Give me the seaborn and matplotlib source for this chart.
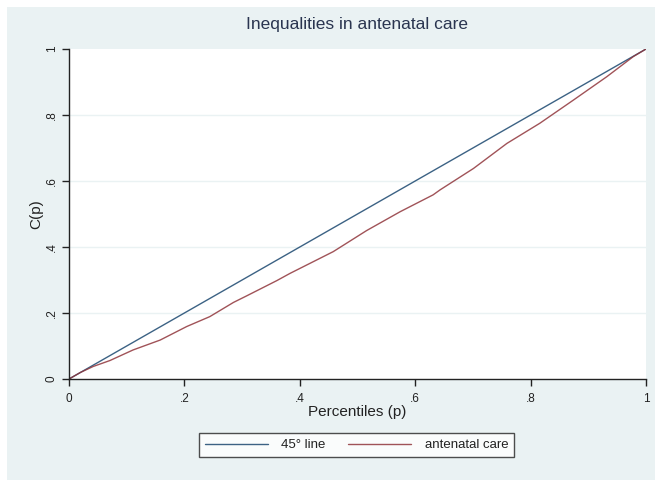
import matplotlib
matplotlib.use("Agg")
import matplotlib.pyplot as plt
import seaborn as sns
import pandas as pd
from matplotlib.patches import Rectangle

# Equality reference line
line45_p = [0.0, 1.0]
line45_c = [0.0, 1.0]

# Concentration curve for antenatal care
care_p = [0.0, 0.02, 0.042, 0.071, 0.111, 0.158, 0.204, 0.244, 0.285, 0.308,
          0.36, 0.383, 0.458, 0.516, 0.574, 0.631, 0.643, 0.701, 0.759, 0.816,
          0.874, 0.932, 0.978, 1.0]
care_c = [0.0, 0.02, 0.038, 0.056, 0.088, 0.118, 0.159, 0.189, 0.232, 0.252,
          0.298, 0.320, 0.386, 0.450, 0.507, 0.558, 0.573, 0.638, 0.714, 0.775,
          0.845, 0.916, 0.977, 1.0]

ticks = [0, 0.2, 0.4, 0.6, 0.8, 1.0]
tick_labels = ["0", ".2", ".4", ".6", ".8", "1"]

sns.set_theme(style="white")
plt.rcParams["font.family"] = ["Liberation Sans", "DejaVu Sans"]

W, H = 657, 480
fig = plt.figure(figsize=(W / 100, H / 100), dpi=100, facecolor="white")

bg = "#eaf2f3"
fig.add_artist(Rectangle((7 / W, 0), (655 - 7) / W, 1 - 7 / H,
                         transform=fig.transFigure, facecolor=bg,
                         edgecolor="none", zorder=-10))

ax = fig.add_axes([69 / W, 1 - 379 / H, (646 - 69) / W, (379 - 49) / H])
ax.set_zorder(1)
ax.set_facecolor("white")

df45 = pd.DataFrame({"p": line45_p, "c": line45_c})
dfc = pd.DataFrame({"p": care_p, "c": care_c})

navy = "#1a476f"
maroon = "#90353b"
sns.lineplot(data=df45, x="p", y="c", ax=ax, color=navy, lw=1.0,
             label="45° line", sort=False, alpha=0.85)
sns.lineplot(data=dfc, x="p", y="c", ax=ax, color=maroon, lw=1.0,
             label="antenatal care", sort=False, alpha=0.85)

ax.set_xlim(0, 1)
ax.set_ylim(0, 1)
ax.set_xticks(ticks)
ax.set_xticklabels(tick_labels)
ax.set_yticks(ticks)
ax.set_yticklabels(tick_labels, rotation=90, va="center")

for y in ticks[1:-1]:
    ax.axhline(y, color=bg, lw=1.0, zorder=0)

for side in ["top", "right"]:
    ax.spines[side].set_visible(False)
for side in ["left", "bottom"]:
    ax.spines[side].set_color("#222222")
    ax.spines[side].set_linewidth(1.0)

ax.tick_params(axis="both", direction="out", length=5, width=1,
               color="#222222", labelsize=8.5, labelcolor="#222222",
               left=True, bottom=True)
ax.tick_params(axis="x", pad=5)
ax.tick_params(axis="y", pad=3)

ax.set_xlabel("Percentiles (p)", fontsize=11, color="#222222", labelpad=0)
ax.set_ylabel("C(p)", fontsize=11, color="#222222", labelpad=2)

fig.text(357 / W, 1 - 24 / H, "Inequalities in antenatal care",
         ha="center", va="center", fontsize=12.5, color="#2a3550")

handles, labels = ax.get_legend_handles_labels()
ax.get_legend().remove()
leg = fig.legend(handles, labels, loc="center", ncol=2,
                 bbox_to_anchor=(356.5 / W, 1 - 445 / H),
                 frameon=True, fancybox=False, fontsize=9.5,
                 handlelength=4.8, handletextpad=1.0, columnspacing=1.7,
                 borderpad=0.45)
leg.get_frame().set_edgecolor("#222222")
leg.get_frame().set_linewidth(1.0)
leg.get_frame().set_facecolor("white")
for t in leg.get_texts():
    t.set_color("#222222")

fig.savefig("out.png", dpi=100, facecolor="white")
